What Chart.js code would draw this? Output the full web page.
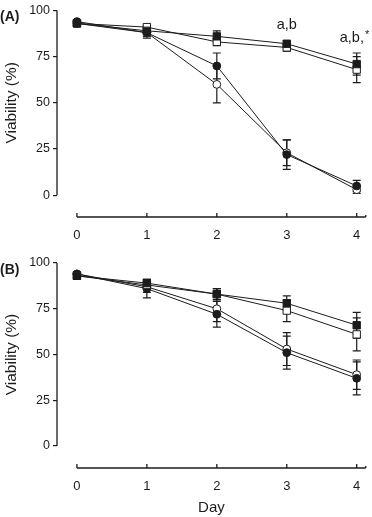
<!DOCTYPE html>
<html>
<head>
<meta charset="utf-8">
<script src="https://cdn.jsdelivr.net/npm/chart.js@4.4.1/dist/chart.umd.min.js"></script>
<style>
    html, body { margin: 0; padding: 0; background: #fff; }
    .panel { position: absolute; left: 0; width: 372px; }
    #panel_a { top: 0; height: 250px; }
    #panel_b { top: 250px; height: 267px; }
</style>
</head>
<body>
<div class="panel" id="panel_a"><canvas id="chart_a"></canvas></div>
<div class="panel" id="panel_b"><canvas id="chart_b"></canvas></div>
<script>
// data
var days = [0, 1, 2, 3, 4];
var yTicks = [0, 25, 50, 75, 100];

// (A)
var aFilledSquare = [93, 89, 86, 82, 71];
var aFilledSquareErr = [1, 2, 3, 1.5, 6];
var aOpenSquare = [93, 91, 83, 80, 68];
var aOpenSquareErr = [1, 1, 2, 2, 7];
var aFilledCircle = [94, 88, 70, 22, 5];
var aFilledCircleErr = [1, 3, 7, 8, 3];
var aOpenCircle = [93, 88, 60, 23, 3];
var aOpenCircleErr = [1, 2, 10, 7, 2];

// (B)
var bFilledSquare = [93, 89, 83, 78, 66];
var bFilledSquareErr = [1, 2, 3, 4, 7];
var bOpenSquare = [93, 88, 83, 74, 61];
var bOpenSquareErr = [1, 2, 3, 6, 9];
var bFilledCircle = [94, 86, 72, 51, 37];
var bFilledCircleErr = [1, 5, 7, 9, 9];
var bOpenCircle = [94, 87, 75, 53, 39];
var bOpenCircleErr = [1, 3, 7, 9, 8];

var ink = '#1c1c1c';
var fontFamily = '"Liberation Sans", Arial, Helvetica, sans-serif';

function pts(values) {
    return days.map(function (d, i) { return { x: d, y: values[i] }; });
}

function series(values, errs, style, filled) {
    return {
        data: pts(values),
        errors: errs,
        borderColor: ink,
        borderWidth: 1,
        pointStyle: style,
        pointRadius: style === 'rect' ? 5.2 : 3.9,
        pointBorderWidth: 1,
        pointBorderColor: ink,
        pointBackgroundColor: filled ? ink : '#fff',
        tension: 0
    };
}

// 에러바 + 축선 + 문자
var customDraw = {
    id: 'customDraw',
    beforeDatasetsDraw: function (chart) {
        var ctx = chart.ctx;
        var ys = chart.scales.y;
        ctx.save();
        ctx.strokeStyle = ink;
        ctx.lineWidth = 1.2;
        chart.data.datasets.forEach(function (ds, di) {
            var meta = chart.getDatasetMeta(di);
            meta.data.forEach(function (p, i) {
                var v = ds.data[i].y, e = ds.errors[i];
                var top = ys.getPixelForValue(v + e);
                var bot = ys.getPixelForValue(v - e);
                ctx.beginPath();
                ctx.moveTo(p.x, top); ctx.lineTo(p.x, bot);
                ctx.moveTo(p.x - 4, top); ctx.lineTo(p.x + 4, top);
                ctx.moveTo(p.x - 4, bot); ctx.lineTo(p.x + 4, bot);
                ctx.stroke();
            });
        });
        ctx.restore();
    },
    afterDraw: function (chart) {
        var ctx = chart.ctx;
        var xs = chart.scales.x, ys = chart.scales.y;
        var area = chart.chartArea;
        var o = chart.options.plugins.customDraw;
        ctx.save();
        ctx.strokeStyle = ink;
        ctx.lineWidth = 1.3;
        // y 축
        ctx.beginPath();
        ctx.moveTo(area.left, ys.getPixelForValue(0));
        ctx.lineTo(area.left, ys.getPixelForValue(100));
        ctx.stroke();
        // x 축
        ctx.beginPath();
        ctx.moveTo(xs.getPixelForValue(0), area.bottom);
        ctx.lineTo(area.right, area.bottom);
        days.forEach(function (d) {
            var px = xs.getPixelForValue(d);
            ctx.moveTo(px, area.bottom);
            ctx.lineTo(px, area.bottom - 4);
        });
        ctx.moveTo(area.right, area.bottom);
        ctx.lineTo(area.right, area.bottom - 2);
        ctx.stroke();

        ctx.fillStyle = ink;
        ctx.textBaseline = 'middle';

        // y 축 제목 (0~100 가운데)
        ctx.save();
        ctx.translate(12, (ys.getPixelForValue(0) + ys.getPixelForValue(100)) / 2);
        ctx.rotate(-Math.PI / 2);
        ctx.textAlign = 'center';
        ctx.font = '15.5px ' + fontFamily;
        ctx.fillText('Viability (%)', 0, 0);
        ctx.restore();

        ctx.font = 'bold 14px ' + fontFamily;
        ctx.fillText(o.letter, 0, ys.getPixelForValue(100) + 7);

        ctx.font = '14.5px ' + fontFamily;
        (o.notes || []).forEach(function (n) {
            var px = xs.getPixelForValue(n.x);
            var py = ys.getPixelForValue(n.y);
            ctx.textAlign = 'center';
            ctx.fillText(n.text, px, py);
            if (n.star) {
                var w = ctx.measureText(n.text).width;
                ctx.textAlign = 'left';
                ctx.font = '11px ' + fontFamily;
                ctx.fillText('*', px + w / 2 + 1, py - 3);
                ctx.font = '14.5px ' + fontFamily;
            }
        });
        ctx.restore();
    }
};

function makeChart(id, datasets, cfg) {
    return new Chart(document.getElementById(id), {
        type: 'line',
        data: { datasets: datasets },
        plugins: [customDraw],
        options: {
            responsive: true,
            maintainAspectRatio: false,
            animation: false,
            layout: { padding: { top: cfg.padTop, right: 5, left: 0, bottom: 0 } },
            plugins: {
                legend: { display: false },
                tooltip: { enabled: false },
                customDraw: { letter: cfg.letter, notes: cfg.notes }
            },
            scales: {
                x: {
                    type: 'linear',
                    min: -0.285,
                    max: 4.13,
                    afterBuildTicks: function (s) { s.ticks = days.map(function (d) { return { value: d }; }); },
                    afterFit: function (s) { s.height = cfg.xHeight; },
                    grid: { display: false },
                    border: { display: false },
                    ticks: { color: ink, padding: 3, font: { family: fontFamily, size: 13 } },
                    title: {
                        display: cfg.showDay,
                        text: 'Day',
                        color: ink,
                        padding: { top: 6, bottom: 0 },
                        font: { family: fontFamily, size: 15 }
                    }
                },
                y: {
                    min: cfg.yMin,
                    max: 100,
                    afterBuildTicks: function (s) { s.ticks = yTicks.map(function (v) { return { value: v }; }); },
                    afterFit: function (s) { s.width = 57; },
                    grid: { display: true, drawOnChartArea: false, drawTicks: true, tickLength: 4, color: ink, lineWidth: 1.2 },
                    border: { display: false },
                    ticks: { color: ink, padding: 3, font: { family: fontFamily, size: 12.5 } }
                }
            }
        }
    });
}

var chartA = makeChart('chart_a', [
    series(aFilledSquare, aFilledSquareErr, 'rect', true),
    series(aOpenSquare, aOpenSquareErr, 'rect', false),
    series(aFilledCircle, aFilledCircleErr, 'circle', true),
    series(aOpenCircle, aOpenCircleErr, 'circle', false)
], {
    padTop: 8, xHeight: 33, yMin: -11.8, letter: '(A)', showDay: false,
    notes: [{ x: 3, y: 92, text: 'a,b' }, { x: 3.93, y: 85, text: 'a,b,', star: true }]
});

var chartB = makeChart('chart_b', [
    series(bFilledSquare, bFilledSquareErr, 'rect', true),
    series(bOpenSquare, bOpenSquareErr, 'rect', false),
    series(bFilledCircle, bFilledCircleErr, 'circle', true),
    series(bOpenCircle, bOpenCircleErr, 'circle', false)
], {
    padTop: 13, xHeight: 49, yMin: -12, letter: '(B)', showDay: true, notes: []
});
</script>
</body>
</html>
